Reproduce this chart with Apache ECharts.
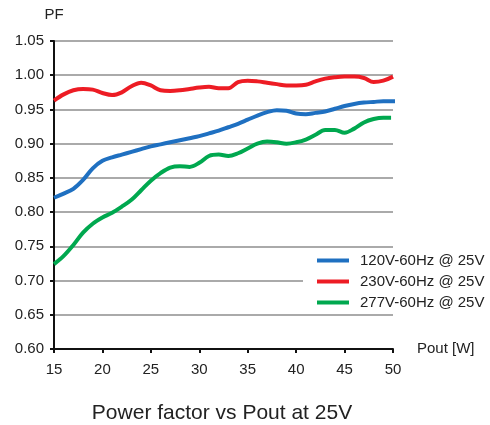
<!DOCTYPE html>
<html><head><meta charset="utf-8">
<script src="https://cdn.jsdelivr.net/npm/echarts@6/dist/echarts.min.js"></script>
<style>html,body{margin:0;padding:0;background:#fff}#c{width:490px;height:425px}</style>
</head><body><div id="c"></div>
<script>
var seriesNames = ['120V-60Hz @ 25V', '230V-60Hz @ 25V', '277V-60Hz @ 25V'];
var xTicks = [15, 20, 25, 30, 35, 40, 45, 50];
var pf120 = [[15,0.821],[16,0.827],[17,0.834],[18,0.847],[19,0.864],[20,0.875],[21,0.880],[22,0.884],[23,0.888],[24,0.892],[25,0.896],[26,0.899],[27,0.902],[28,0.905],[29,0.908],[30,0.911],[31,0.915],[32,0.919],[33,0.924],[34,0.929],[35,0.935],[36,0.941],[37,0.946],[38,0.949],[39,0.948],[40,0.944],[41,0.943],[42,0.945],[43,0.947],[44,0.951],[45,0.955],[46,0.958],[47,0.960],[48,0.961],[49,0.962],[50,0.962],[50.5,0.962]];
var pf230 = [[15,0.963],[16,0.972],[17,0.978],[18,0.980],[19,0.979],[20,0.974],[21,0.971],[22,0.975],[23,0.984],[24,0.989],[25,0.985],[26,0.978],[27,0.977],[28,0.978],[29,0.980],[30,0.982],[31,0.983],[32,0.981],[33,0.981],[34,0.990],[35,0.992],[36,0.991],[37,0.989],[38,0.987],[39,0.985],[40,0.985],[41,0.986],[42,0.991],[43,0.995],[44,0.997],[45,0.998],[46,0.998],[47,0.996],[48,0.990],[49,0.992],[50,0.998]];
var pf277 = [[15,0.724],[16,0.736],[17,0.752],[18,0.770],[19,0.783],[20,0.792],[21,0.799],[22,0.808],[23,0.818],[24,0.832],[25,0.846],[26,0.857],[27,0.865],[28,0.867],[29,0.866],[30,0.872],[31,0.882],[32,0.884],[33,0.882],[34,0.886],[35,0.893],[36,0.900],[37,0.903],[38,0.902],[39,0.900],[40,0.902],[41,0.906],[42,0.913],[43,0.920],[44,0.920],[45,0.916],[46,0.922],[47,0.931],[48,0.936],[49,0.938],[49.8,0.938]];
var colors = ['#1f70c1', '#ed1c24', '#00a84f'];
var font = 'Liberation Sans, Arial, sans-serif';

var chart = echarts.init(document.getElementById('c'), null, {renderer: 'canvas'});
function mk(name, data, color) {
  return {name: name, type: 'line', data: data, smooth: 0.35, showSymbol: false, clip: false,
    lineStyle: {width: 4, color: color}, itemStyle: {color: color}};
}
chart.setOption({
  animation: false,
  textStyle: {fontFamily: font},
  title: {text: 'Power factor vs Pout at 25V', left: 217, top: 398, textAlign: 'center',
    textStyle: {fontSize: 21, fontWeight: 'normal', color: '#222', fontFamily: font}},
  grid: {left: 54, top: 41, right: 97, bottom: 76, containLabel: false},
  legend: {orient: 'vertical', left: 303, top: 250, padding: [3, 2, 3, 14],
    backgroundColor: '#fff', itemWidth: 32, itemHeight: 4, itemGap: 6, icon: 'rect',
    textStyle: {fontSize: 15, color: '#222', fontFamily: font, padding: [0, 0, 0, 6]},
    data: seriesNames},
  xAxis: {type: 'value', min: xTicks[0], max: xTicks[xTicks.length - 1], interval: 5,
    name: 'Pout [W]', nameLocation: 'end', nameGap: 24,
    nameTextStyle: {fontSize: 15, color: '#222', padding: [6, 0, 0, 0]},
    axisLine: {lineStyle: {color: '#111', width: 2}},
    axisTick: {show: true, length: 4, lineStyle: {color: '#111', width: 2}},
    axisLabel: {fontSize: 15, color: '#222', margin: 13},
    splitLine: {show: false}},
  yAxis: {type: 'value', min: 0.6, max: 1.05, interval: 0.05,
    name: 'PF', nameLocation: 'end', nameGap: 19,
    nameTextStyle: {fontSize: 15, color: '#222'},
    axisLine: {show: true, lineStyle: {color: '#111', width: 2}},
    axisTick: {show: true, length: 4, lineStyle: {color: '#111', width: 2}},
    axisLabel: {fontSize: 15, color: '#222', margin: 10, formatter: function (v) { return v.toFixed(2); }},
    splitLine: {show: true, lineStyle: {color: '#aaa', width: 2}}},
  series: [mk(seriesNames[0], pf120, colors[0]), mk(seriesNames[1], pf230, colors[1]), mk(seriesNames[2], pf277, colors[2])]
});
</script></body></html>
